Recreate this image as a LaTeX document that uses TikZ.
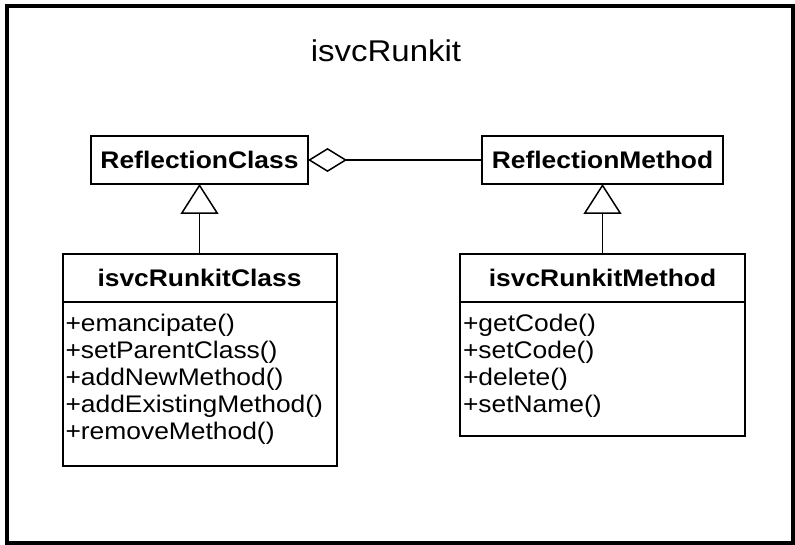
\documentclass[tikz,border=0pt]{standalone}
\usepackage{fontspec}
\setmainfont[FakeStretch=1.1]{Liberation Sans}
\usetikzlibrary{positioning,arrows.meta}

\begin{document}
\begin{tikzpicture}[x=1pt, y=-1pt, line width=2pt,
  cls/.style = {draw, minimum height=48pt, inner sep=0pt, outer sep=0pt,
    font=\fontsize{24}{27}\selectfont\bfseries},
  ops/.style = {draw, anchor=north, inner sep=0pt, outer sep=0pt},
  txt/.style = {anchor=north west, align=left, inner xsep=2pt, inner ysep=11pt,
    font=\fontsize{24}{27}\selectfont},
  inherit/.style = {line width=1.5pt, -{Triangle[open, length=30pt, width=38pt]}},
  aggr/.style = {line width=1.5pt, -{Diamond[open, length=39pt, width=24pt]}}]
\useasboundingbox (0,0) rectangle (795,545);
\draw[line width=4pt] (6.5,6.5) rectangle (792.5,542.5);

\node[font=\fontsize{30}{36}\selectfont] (title) at (386,51) {isvcRunkit};

\node[cls, minimum width=217pt] (rc) at (199.5,160) {ReflectionClass};
\node[cls, minimum width=241pt] (rm) at (602.5,160) {ReflectionMethod};

% isvcRunkitClass
\node[cls, minimum width=274pt] (rcHead) [below=70pt of rc] {isvcRunkitClass};
\node[ops, minimum width=274pt, minimum height=164pt] (rcOps) at (rcHead.south) {};
\node[txt] (rcText) at (rcOps.north west) {+emancipate()\\+setParentClass()\\+addNewMethod()\\+addExistingMethod()\\+removeMethod()};

% isvcRunkitMethod
\node[cls, minimum width=285pt] (rmHead) [below=70pt of rm] {isvcRunkitMethod};
\node[ops, minimum width=285pt, minimum height=134pt] (rmOps) at (rmHead.south) {};
\node[txt] (rmText) at (rmOps.north west) {+getCode()\\+setCode()\\+delete()\\+setName()};

\draw[aggr] (rm) -- (rc);
\draw[inherit] (rcHead) -- (rc);
\draw[inherit] (rmHead) -- (rm);
\end{tikzpicture}
\end{document}
